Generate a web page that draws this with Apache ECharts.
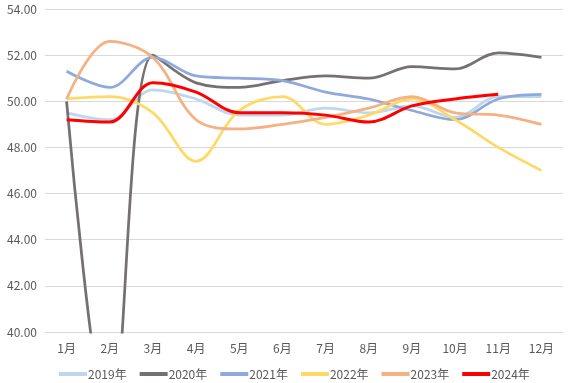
<!DOCTYPE html>
<html><head><meta charset="utf-8">
<script src="https://cdn.jsdelivr.net/npm/echarts@6/dist/echarts.min.js"></script>
<style>html,body{margin:0;padding:0;background:#fff}#c{width:571px;height:383px}</style>
</head><body><div id="c"></div>
<script>
const months = ['1月','2月','3月','4月','5月','6月','7月','8月','9月','10月','11月','12月'];
const seriesNames = ['2019年','2020年','2021年','2022年','2023年','2024年'];
const y2019 = [49.5,49.2,50.5,50.1,49.4,49.4,49.7,49.5,49.8,49.3,50.2,50.2];
const y2020 = [50.0,35.7,52.0,50.8,50.6,50.9,51.1,51.0,51.5,51.4,52.1,51.9];
const y2021 = [51.3,50.6,51.9,51.1,51.0,50.9,50.4,50.1,49.6,49.2,50.1,50.3];
const y2022 = [50.1,50.2,49.5,47.4,49.6,50.2,49.0,49.4,50.1,49.2,48.0,47.0];
const y2023 = [50.1,52.6,51.9,49.2,48.8,49.0,49.3,49.7,50.2,49.5,49.4,49.0];
const y2024 = [49.2,49.1,50.8,50.4,49.5,49.5,49.4,49.1,49.8,50.1,50.3];
const colors = ['#BDD7EE','#767171','#8EA9DB','#FFD966','#F4B183','#FF0000'];
const allData = [y2019,y2020,y2021,y2022,y2023,y2024];
const font = '"Noto Sans CJK SC", "Noto Sans", sans-serif';
const chart = echarts.init(document.getElementById('c'));
chart.setOption({
  animation:false,
  grid:{left:45,right:8,top:9,bottom:51},
  legend:{
    bottom:-2, left:54, itemGap:13, itemWidth:28, itemHeight:4, icon:'rect',
    textStyle:{color:'#595959',fontSize:12,fontFamily:font,padding:[0,0,0,-4]},
    data:seriesNames
  },
  xAxis:{type:'category',data:months,boundaryGap:true,
    axisLine:{lineStyle:{color:'#d9d9d9'}},axisTick:{show:false},
    axisLabel:{color:'#595959',fontSize:12,fontFamily:font,margin:10}},
  yAxis:{type:'value',min:40,max:54,interval:2,
    axisLine:{show:false},axisTick:{show:false},
    splitLine:{lineStyle:{color:'#d9d9d9'}},
    axisLabel:{color:'#595959',fontSize:12,fontFamily:font,formatter:v=>v.toFixed(2)}},
  series: seriesNames.map((n,i)=>({
    name:n,type:'line',data:allData[i],smooth:0.35,showSymbol:false,symbol:'none',
    clip:true,
    lineStyle:{color:colors[i],width:i===5?3:2.75},
    itemStyle:{color:colors[i]},
    z:2+i
  }))
});
</script></body></html>
